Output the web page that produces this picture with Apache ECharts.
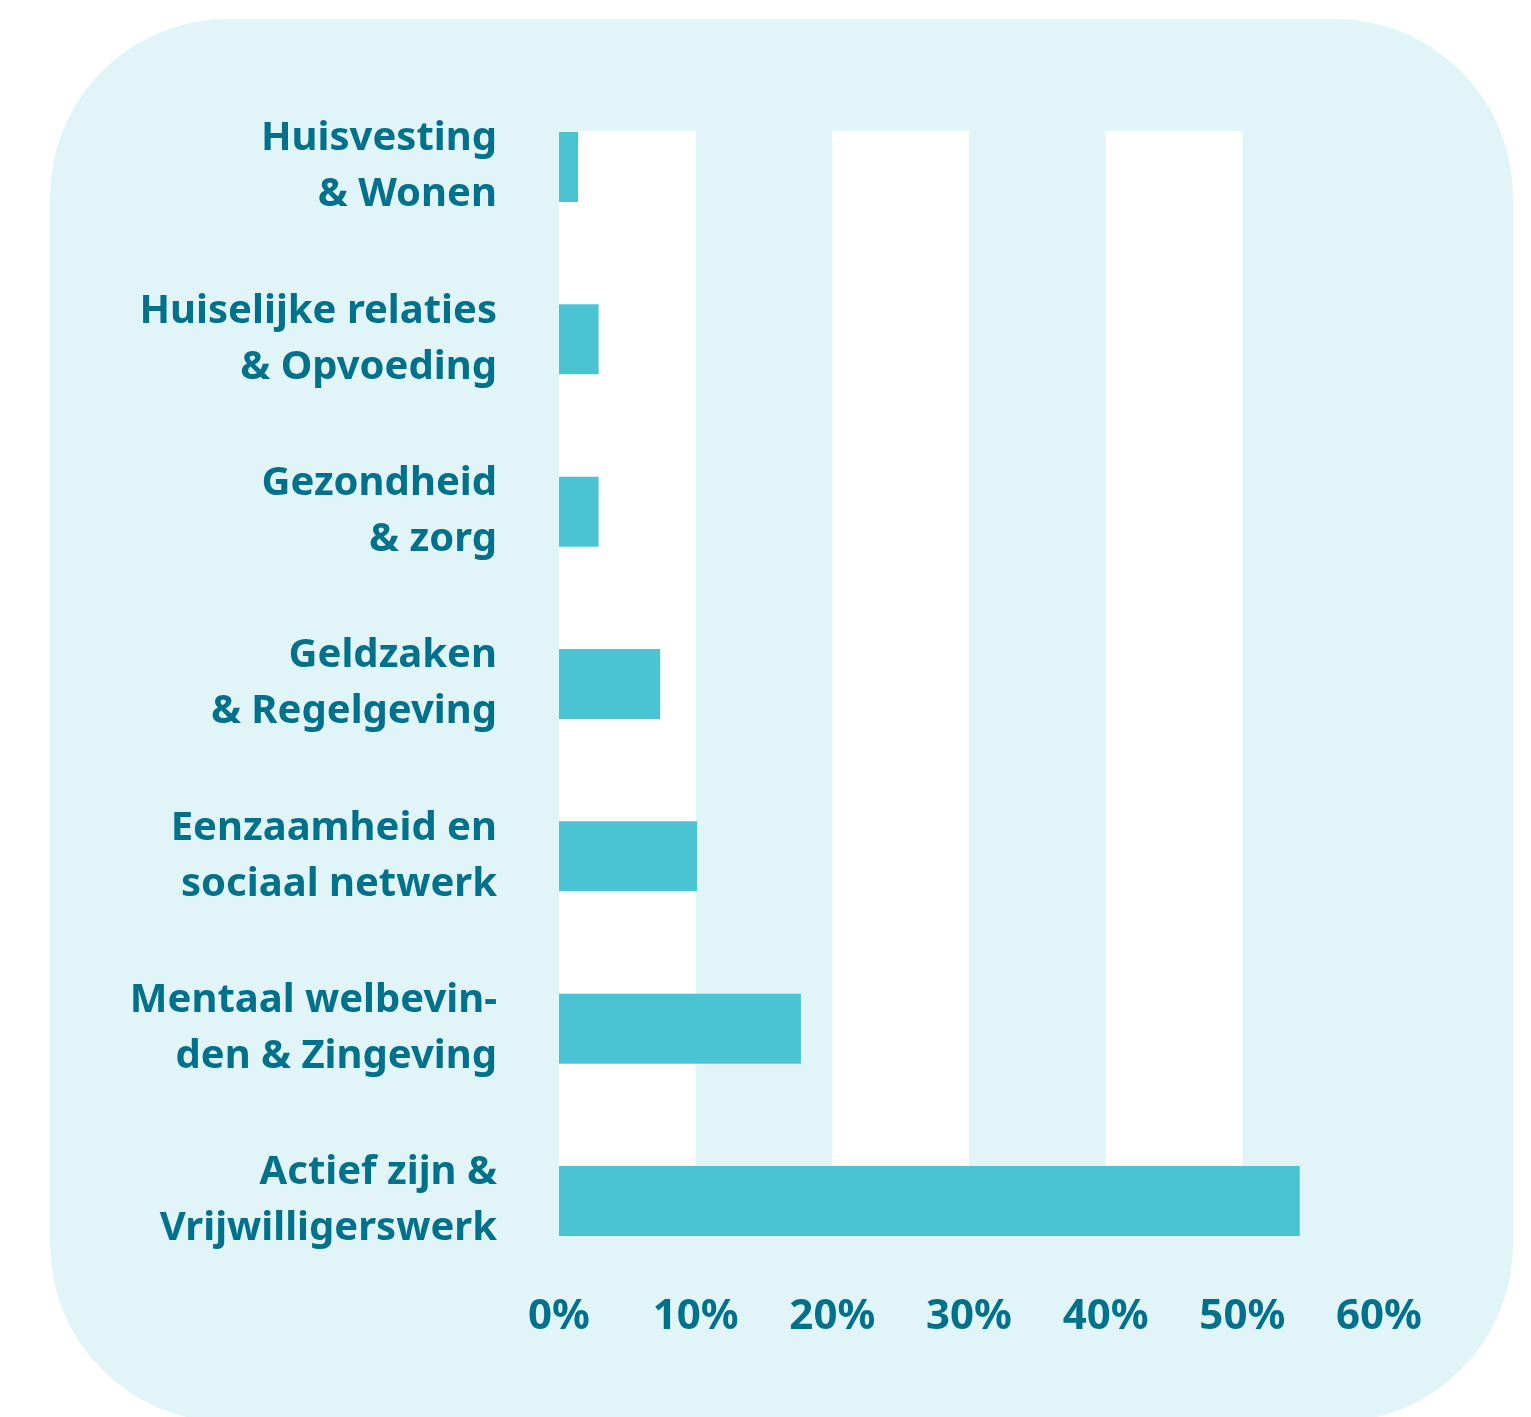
<!DOCTYPE html>
<html lang="nl">
<head>
    <meta charset="utf-8">
    <title>Thema's</title>
    <script src="https://cdn.jsdelivr.net/npm/echarts@6/dist/echarts.min.js"></script>
    <style>
        html, body { margin: 0; padding: 0; background: #fff; }
        #chart { width: 1531px; height: 1417px; }
    </style>
</head>
<body>
    <div id="chart"></div>
    <script>
        // categories, top to bottom
        var themes = [
            'Huisvesting\n& Wonen',
            'Huiselijke relaties\n& Opvoeding',
            'Gezondheid\n& zorg',
            'Geldzaken\n& Regelgeving',
            'Eenzaamheid en\nsociaal netwerk',
            'Mentaal welbevin-\nden & Zingeving',
            'Actief zijn &\nVrijwilligerswerk'
        ];
        // share in percent
        var shares = [1.4, 2.9, 2.9, 7.4, 10.1, 17.7, 54.2];
        var xTicks = [0, 10, 20, 30, 40, 50, 60];

        var darkTeal = '#00718A';
        var barColor = '#4AC4D3';
        var panelColor = '#E1F5F9';

        var chart = echarts.init(document.getElementById('chart'));

        var option = {
            animation: false,
            graphic: [{
                type: 'rect',
                z: -10,
                silent: true,
                shape: { x: 50, y: 19, width: 1463, height: 1403, r: 178 },
                style: { fill: panelColor }
            }],
            grid: [
                // stripes
                { left: 559, right: 152, top: 131, bottom: 1417 - 1236 },
                // bars
                { left: 559, right: 152, top: 80.8, bottom: 1417 - 1287.2 }
            ],
            xAxis: [{
                gridIndex: 0,
                type: 'value',
                min: xTicks[0],
                max: xTicks[xTicks.length - 1],
                interval: 10,
                axisLine: { show: false },
                axisTick: { show: false },
                splitLine: { show: false },
                splitArea: {
                    show: true,
                    areaStyle: { color: ['#ffffff', 'rgba(0,0,0,0)'] }
                },
                axisLabel: {
                    margin: 60,
                    color: darkTeal,
                    fontFamily: 'Noto Sans',
                    fontWeight: 'bold',
                    fontSize: 42,
                    formatter: function (v) { return v + '%'; }
                }
            }, {
                gridIndex: 1,
                type: 'value',
                min: xTicks[0],
                max: xTicks[xTicks.length - 1],
                interval: 10,
                show: false,
                splitLine: { show: false }
            }],
            yAxis: [{
                gridIndex: 0,
                type: 'value',
                show: false,
                splitLine: { show: false }
            }, {
                gridIndex: 1,
                type: 'category',
                inverse: true,
                data: themes,
                axisLine: { show: false },
                axisTick: { show: false },
                axisLabel: {
                    margin: 62,
                    align: 'right',
                    color: darkTeal,
                    fontFamily: 'Noto Sans',
                    fontWeight: 'bold',
                    fontSize: 40,
                    lineHeight: 56
                }
            }],
            series: [{
                type: 'bar',
                xAxisIndex: 1,
                yAxisIndex: 1,
                data: shares,
                barWidth: 70,
                itemStyle: { color: barColor },
                silent: true
            }]
        };

        chart.setOption(option);
    </script>
</body>
</html>
